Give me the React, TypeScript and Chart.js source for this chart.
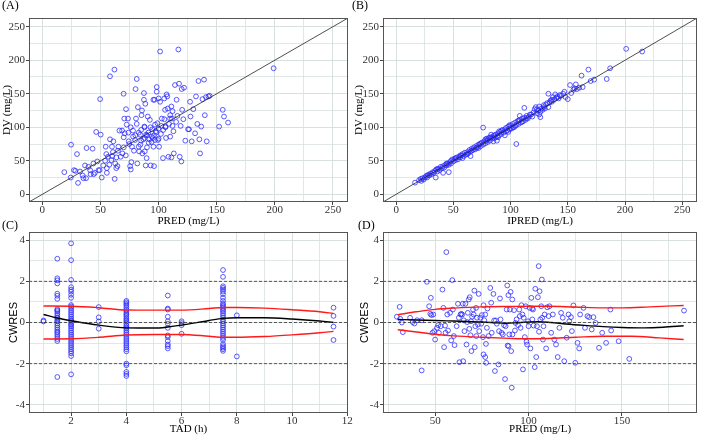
import { useEffect, useRef } from 'react';
import { Chart, registerables } from 'chart.js';
Chart.register(...registerables);

const SERIF = "'Liberation Serif', 'Times New Roman', serif";
const SANS = "'Liberation Sans', Arial, sans-serif";

// ---------- Panel A: PRED vs DV ----------
const A_PRED_DV: [number, number][] = [
  [18.9,33],[24.7,74],[24.4,25],[27.2,36],[28.4,35],[29.8,60],[30.7,17],[32.4,34],[34.7,28],[35.3,24],[36.7,43],[37.6,24],[38,69],[39.6,41],[41.1,36],[41.5,30],[43.2,68],[43.9,46],[44.2,30],[45.2,32],[46.3,93],[47.3,49],[48.3,36],[49.7,142],[50.2,89],[51.1,25],[49.3,36],[52.4,43],[54,50],[54.5,71],[55.5,39],[55.5,32],[56.5,56],[57.6,44],[58.2,176],[58.2,82],[59.4,51],[59.9,71],[60.7,63],[61.1,79],[62,186],[62.2,23],[62.7,46],[63.6,39],[63.7,55],[64.6,42],[65.4,71],[66.3,95],[67.4,56],[68.6,95],[68.9,61],[69.9,150],[70.5,113],[70.9,91],[72,127],[71.8,58],[72.6,104],[73.7,113],[74,92],[74.3,79],[74.8,75],[75.5,42],[76.1,37],[76.6,48],[77.1,71],[78.1,86],[78.8,65],[79.8,81],[80.2,157],[80.6,113],[81.2,172],[81.2,105],[81.7,46],[82.2,130],[82.9,71],[83.3,64],[84.1,89],[84.3,74],[85.3,118],[85.7,125],[86,61],[86.9,82],[87.4,151],[87.4,141],[87.8,101],[88.1,64],[88.6,135],[88.9,43],[89.2,89],[89.7,54],[90.7,116],[91.2,92],[91.5,77],[92.5,111],[93.2,43],[94.1,86],[94.6,97],[95.5,141],[95.6,71],[96.1,42],[96.6,141],[96.9,81],[97.6,94],[98.4,160],[98.4,153],[99,106],[99.5,81],[100.1,143],[100.4,71],[101.3,213],[101.3,138],[102.4,102],[102.8,113],[103.8,54],[104.9,143],[105.6,126],[105.9,101],[106.4,84],[106.9,149],[107.5,146],[107.9,128],[108.5,56],[109,105],[109.9,113],[110,86],[111,55],[111,131],[111.5,113],[112,102],[112.8,94],[113.1,61],[114.1,163],[115.1,108],[115.5,141],[116.2,117],[117,216],[117.6,165],[118.2,56],[119,102],[119.6,49],[119.9,157],[120.3,126],[121.3,112],[121.9,159],[123,80],[125.4,97],[126.2,97],[127.1,138],[127.5,116],[128.5,79],[129.9,127],[131.4,91],[132.2,146],[133.3,105],[134.3,169],[135.1,82],[135.7,61],[136.7,101],[137.8,142],[139.1,171],[139.8,118],[140.8,145],[141.4,79],[142.9,146],[143.9,147],[152.1,101],[155.2,126],[156.3,116],[159.8,107],[199,188],
  [76,100],[78,95],[80,88],[83,92],[85,80],[88,84],[90,88],[92,82],[94,78],[96,88],[98,92],[100,98],[102,90],[104,96],[106,100],[90,70],[85,96],[95,84],[100,83],[93,100],[65,65],[70,70],[60,57],[55,60],[105,112],[110,118],[97,104],[112,124],[70,85],[88,100]
];

// ---------- Panel B: IPRED vs DV ----------
const B_IPRED_DV: [number, number][] = [
  [16.5,17.4],[20,21],[21.5,23],[22,20],[23,24],[24,22],[25,25],[26,27],[27,25],[28,29],[29,28],[30,31],[31,30],[32,33],[33,32],[34,35],[34.6,25],[35,37],[36,34],[37,38],[38,36],[39,41],[40,39],[41,32],[41,42],[42,40],[43,44],[44,43],[45,46],[46,33],[46,44],[47,48],[48,50],[48,46],[49,52],[50,49],[51,53],[52,51],[53,55],[54,52],[55,56],[56,55],[57,58],[58,60],[58,54],[59,57],[60,62],[61,59],[62,63],[63,61],[64,66],[65,64],[65,57],[66,68],[67,66],[68,70],[69,67],[70,72],[71,70],[72,74],[72,69],[73,75],[74,72],[75,77],[76,99.5],[76,74],[77,79],[78,76],[78,82],[79,80],[80,82],[80,78],[81,84],[82,80],[83,85],[83,89],[84,83],[85,87],[85,79],[86,84],[87,89],[88,86],[88,80],[89,91],[90,88],[90,94],[91,93],[92,90],[93,96],[94,92],[95,97],[95,88],[96,99],[97,95],[98,101],[98,93],[99,97],[100,103],[100,99],[101,98],[102,105],[103,100],[104,107],[105,75],[105,103],[106,109],[107,105],[108,111],[108,117],[109,107],[110,113],[111,109],[112,129],[112,114],[113,111],[114,117],[115,113],[116,116],[118,119],[119,116],[120,122],[121,127],[122,130],[123,121],[124,125],[125,131],[126,115],[126,123],[127,128],[128,126],[129,133],[130,128],[131,134],[132,136],[133,150],[133,130],[134,137],[135,140],[136,141],[137,145],[138,141],[139,149],[140,144],[141,146],[142,143],[143,148],[144,147],[147,153],[150,142],[152,163],[153,151],[155,156],[156,158],[157,164],[158,157],[160,159],[162,177],[163,160],[168,186],[170,169],[173,171],[184,172],[187,188],[201,217],[215,213],
  [27,28],[36,38],[44,46],[52,54],[56,58],[62,60],[66,65],[70,69],[74,76],[79,83],[82,85],[86,88],[89,85],[92,95],[96,94],[99,103],[102,100],[104,102],[107,110],[110,108],[114,114],[117,119],[123,127],[129,130],[136,138],[146,150],[148,145],[125,119]
];

// ---------- Panel C: TAD vs CWRES (grouped by nominal TAD) ----------
const C_TAD_CWRES: [number, number[]][] = [
  [1, [0.05, 0.1]],
  [1.5, [3.1,2.15,2.05,1.9,1.4,1.3,1.15,0.65,0.6,0.55,0.45,0.35,0.25,0.2,0.1,0.05,-0.05,-0.15,-0.25,-0.35,-0.45,-0.5,-0.6,-0.7,-0.8,-0.9,-2.65]],
  [2, [3.85,3.03,2.07,1.72,1.6,1.5,1.35,1.2,0.85,0.78,0.7,0.6,0.5,0.4,0.3,0.2,0.12,0.05,-0.05,-0.12,-0.2,-0.3,-0.4,-0.5,-0.6,-0.7,-0.8,-0.9,-1.0,-1.1,-1.2,-1.3,-1.4,-1.5,-1.63,-2.52]],
  [3, [0.75,0.25,0.05,-0.3]],
  [4, [1.05,0.98,0.9,0.82,0.72,0.62,0.55,0.45,0.38,0.3,0.2,0.12,0.05,-0.05,-0.15,-0.22,-0.3,-0.4,-0.5,-0.6,-0.7,-0.8,-0.9,-1.0,-1.1,-1.2,-1.3,-1.4,-2.0,-2.08,-2.4,-2.5,-2.6]],
  [5.5, [1.31,0.68,0.63,0.28,0.06,-0.06,-0.26,-0.63,-0.71,-0.9,-1.07,-1.15,-1.26]],
  [6, [0.06,-0.03,-0.13,-0.55]],
  [7.5, [2.55,2.22,1.76,1.68,1.6,1.5,1.38,1.2,1.05,0.92,0.85,0.78,0.7,0.62,0.55,0.45,0.35,0.25,0.15,0.05,-0.05,-0.15,-0.25,-0.35,-0.45,-0.55,-0.65,-0.75,-0.85,-1.05,-1.15,-1.22,-1.3,-1.38]],
  [8, [0.35,-1.65]],
  [11.5, [0.72,0.32,-0.2,-0.85]],
];
const C_SMOOTH: [number, number][] = [[1,0.39],[1.5,0.22],[2,0.09],[3,-0.13],[4,-0.26],[5,-0.27],[5.5,-0.22],[6,-0.13],[7,0.1],[7.5,0.2],[8,0.23],[9,0.23],[10,0.17],[11,0.07],[11.5,0.0]];
const C_UPPER: [number, number][] = [[1,0.8],[2,0.79],[3,0.72],[4,0.61],[5,0.6],[6,0.6],[7,0.68],[7.5,0.73],[8,0.73],[9,0.7],[10,0.62],[11,0.52],[11.5,0.44]];
const C_LOWER: [number, number][] = [[1,-0.8],[2,-0.79],[3,-0.72],[4,-0.61],[5,-0.58],[6,-0.58],[7,-0.67],[7.5,-0.72],[8,-0.72],[9,-0.68],[10,-0.6],[11,-0.5],[11.5,-0.43]];

// ---------- Panel D: PRED vs CWRES ----------
const D_PRED_CWRES: [number, number][] = [
  [29.5,0.28],[31,0.76],[31.3,0.18],[32.2,0],[32.7,-0.47],[36.6,0.23],[38,0.02],[38.9,-0.05],[40.3,0.11],[42.8,0.11],[42.8,-2.33],[45.6,1.98],[46.8,0.79],[47.7,1.2],[47.4,0.42],[48,0.36],[48.6,-0.5],[49,0.39],[49.5,-0.42],[50,-0.83],[51,-0.26],[51.6,-0.13],[52,-0.5],[53,-0.18],[53.9,1.6],[54.4,0.71],[54.8,-1.2],[55.3,-0.15],[55.6,-0.5],[56,3.42],[56.5,0.39],[56.9,-0.39],[58,0.47],[58.6,-0.87],[59.2,2.06],[59.5,0.63],[60,-0.66],[60.4,-1.1],[61.5,-0.18],[62.2,0.91],[62.7,0.23],[63,-1.93],[63.6,0.39],[64,0.42],[64.5,0.39],[64.8,0.91],[65,-1.88],[65.3,0.11],[65.7,-0.42],[66.2,0.91],[66.8,-1.07],[67.1,0.02],[67.5,0.47],[68,1.12],[68.3,-0.31],[68.5,1.23],[68.9,-0.62],[69.2,0.06],[69.4,-1.39],[69.8,0.28],[70.3,0.63],[70.6,0.39],[71,1.55],[71.2,-1.2],[71.5,-0.18],[71.9,0.71],[72,-0.66],[72.4,0.23],[72.9,-0.1],[73.3,1.39],[73.6,-0.42],[74.2,0.23],[74.7,-0.06],[75,0.36],[75.6,-0.71],[75.9,-1.55],[75.9,0.84],[76.3,0.11],[76.8,0.39],[76.8,-1.68],[77.2,-1.04],[77.3,-1.96],[77.7,-0.26],[78,0.68],[78.6,-0.66],[79.5,1.68],[80,0.96],[80.3,-0.5],[81.2,1.39],[81.6,0.1],[82,-2.36],[82.5,0.1],[83,-0.06],[83.9,-2.04],[84.2,-0.42],[84.7,1.17],[85,0.15],[85.6,-0.5],[86.2,-0.58],[86.9,-0.13],[87.4,-2.75],[87.7,-0.18],[88.3,0.63],[88.6,1.8],[88.8,-1.12],[89.2,1.33],[89.3,-1.15],[89.7,-0.58],[90,0.63],[90.4,1.49],[90.7,-1.39],[91,-3.17],[91.3,1.12],[91.4,-0.58],[92.2,0.6],[92.7,-0.39],[93,-0.02],[93.6,0.15],[94.4,-0.13],[95,0.63],[95.3,0.31],[95.7,-0.26],[96.2,0.84],[96.7,0.39],[97,-2.28],[97.4,0.23],[98,-0.71],[98.5,0.79],[98.9,-0.94],[99.2,-1.07],[99.7,0.06],[100,-0.18],[100.6,0.71],[101,-1.26],[101.5,1.2],[101.9,0.68],[102,0.15],[102.4,0.63],[102.7,-0.15],[103.3,-2.17],[103.6,1.64],[104.1,-1.68],[104.5,-0.18],[105,1.23],[105.4,2.74],[105.6,-0.45],[105.9,1.52],[106.3,0.15],[106.8,0.79],[107.1,2.09],[107.3,0.23],[107.7,-0.83],[108,-0.18],[108.6,0.39],[109.4,-1.26],[110,0.74],[110.7,0.31],[111.2,0.79],[112.1,-0.5],[113,0.39],[113.8,-0.83],[114.7,-1.07],[115.6,-1.68],[116.5,-0.26],[117.4,0.47],[118.3,0.23],[119.1,-1.88],[120.4,-0.74],[121.4,0.39],[121.8,0.06],[122.7,0.26],[123.2,-0.42],[124,0.83],[125,-1.96],[126.2,-0.99],[127.1,-1.26],[127.6,0.39],[129.4,0.71],[130.2,-0.26],[131.5,0.31],[132.4,0.26],[133.8,-0.34],[134.7,0.26],[135.9,-0.02],[137.7,-1.23],[139.4,-0.5],[141.5,-0.99],[143.8,0.63],[144.2,-0.39],[148.2,-0.91],[153.9,-1.77],[183.2,0.58]
];
const D_SMOOTH: [number, number][] = [[30,0.15],[40,0.12],[50,0.1],[60,0.07],[70,0.04],[80,0.0],[88,-0.04],[95,0.0],[105,0.04],[112,0.0],[120,-0.07],[130,-0.14],[140,-0.2],[150,-0.24],[162,-0.26],[172,-0.23],[183,-0.16]];
const D_UPPER: [number, number][] = [[30,0.38],[40,0.52],[50,0.64],[60,0.7],[75,0.76],[90,0.78],[100,0.79],[110,0.79],[125,0.75],[140,0.71],[150,0.71],[165,0.76],[183,0.83]];
const D_LOWER: [number, number][] = [[30,-0.35],[40,-0.46],[50,-0.57],[60,-0.65],[75,-0.72],[90,-0.77],[100,-0.79],[110,-0.78],[125,-0.72],[140,-0.67],[155,-0.67],[170,-0.75],[183,-0.83]];

// ---------- axes ----------
const CONC_LIM: [number, number] = [-11.5, 263];
const CONC_MAJOR = [0, 50, 100, 150, 200, 250];
const CONC_MINOR = [25, 75, 125, 175, 225];
const TAD_LIM: [number, number] = [0.475, 12.025];
const TAD_MAJOR = [2, 4, 6, 8, 10, 12];
const TAD_MINOR = [1, 3, 5, 7, 9, 11];
const CW_LIM: [number, number] = [-4.4, 4.4];
const CW_MAJOR = [-4, -2, 0, 2, 4];
const CW_MINOR = [-3, -1, 1, 3];
const CW_REF = [-2, 0, 2];
const PRED_D_LIM: [number, number] = [22.1, 190.2];
const PRED_D_MAJOR = [50, 100, 150];
const PRED_D_MINOR = [25, 75, 125, 175];

const BLUE = 'rgba(40,40,255,0.85)';

const borderPlugin = {
  id: 'panelBorder',
  afterDraw(chart: any) {
    const { ctx, chartArea: a } = chart;
    ctx.save();
    ctx.strokeStyle = '#555';
    ctx.lineWidth = 1;
    ctx.strokeRect(Math.round(a.left) + 0.5, Math.round(a.top) + 0.5, Math.round(a.right - a.left) - 1, Math.round(a.bottom - a.top) - 1);
    ctx.restore();
  },
};

const labelPlugin = {
  id: 'panelLabel',
  afterDraw(chart: any, _args: any, opts: any) {
    const { ctx } = chart;
    ctx.save();
    ctx.font = `12px ${SERIF}`;
    ctx.fillStyle = '#000';
    ctx.textBaseline = 'middle';
    ctx.textAlign = 'left';
    ctx.fillText(opts.text, opts.x, opts.y);
    ctx.restore();
  },
};

function axis(opts: {
  lim: [number, number]; major: number[]; minor: number[]; title: string; titleFont: string;
  size: number; horizontal: boolean; titlePad: number;
}) {
  const isMajor = (v: number) => opts.major.includes(v);
  return {
    type: 'linear',
    min: opts.lim[0],
    max: opts.lim[1],
    afterBuildTicks: (s: any) => {
      s.ticks = [...opts.major, ...opts.minor].sort((a, b) => a - b).map((v) => ({ value: v }));
    },
    afterFit: (s: any) => {
      if (opts.horizontal) s.height = opts.size; else s.width = opts.size;
    },
    grid: {
      color: '#d9e0e0',
      lineWidth: (c: any) => (c.tick && isMajor(c.tick.value) ? 1 : 0.8),
      tickColor: (c: any) => (c.tick && isMajor(c.tick.value) ? '#444' : 'rgba(0,0,0,0)'),
      tickLength: 3,
      drawTicks: true,
    },
    border: { display: false },
    ticks: {
      autoSkip: false,
      maxRotation: 0,
      padding: opts.horizontal ? -1 : 1,
      color: '#333',
      font: { family: SERIF, size: 11 },
      callback: (v: any) => (isMajor(v) ? String(v) : ''),
    },
    title: {
      display: true,
      text: opts.title,
      color: '#000',
      font: { family: opts.titleFont, size: 11 },
      padding: { top: opts.titlePad, bottom: 0 },
    },
  };
}

function pts(list: [number, number][]) {
  return list.map(([x, y]) => ({ x, y }));
}

function scatterDs(list: [number, number][]) {
  return {
    type: 'scatter',
    data: pts(list),
    pointRadius: 2.4,
    pointBorderColor: BLUE,
    pointBackgroundColor: 'rgba(0,0,0,0)',
    pointBorderWidth: 0.9,
    showLine: false,
    order: 2,
  };
}

function lineDs(list: [number, number][], color: string, width: number, dash: number[] = [], tension = 0.4) {
  return {
    type: 'line',
    data: pts(list),
    borderColor: color,
    borderWidth: width,
    borderDash: dash,
    pointRadius: 0,
    tension,
    cubicInterpolationMode: 'monotone',
    fill: false,
    order: 1,
  };
}

function hlines(xlim: [number, number]) {
  return CW_REF.map((y) => lineDs([[xlim[0], y], [xlim[1], y]], '#333', 0.8, [3, 2], 0));
}

const W = 702;
const H = 436;

function makeConfig(p: {
  datasets: any[]; padding: any; x: any; y: any; label: { text: string; x: number; y: number };
}) {
  return {
    type: 'scatter',
    data: { datasets: p.datasets },
    options: {
      animation: false,
      responsive: false,
      maintainAspectRatio: false,
      events: [],
      layout: { padding: p.padding },
      plugins: {
        legend: { display: false },
        tooltip: { enabled: false },
        panelLabel: p.label,
      },
      scales: { x: p.x, y: p.y },
    },
    plugins: [borderPlugin, labelPlugin],
  };
}

const cPoints: [number, number][] = C_TAD_CWRES.flatMap(([t, vals]) => vals.map((v) => [t, v] as [number, number]));

const configs = [
  makeConfig({
    datasets: [scatterDs(A_PRED_DV), lineDs([[CONC_LIM[0], CONC_LIM[0]], [CONC_LIM[1], CONC_LIM[1]]], '#222', 0.8, [], 0)],
    padding: { left: 0, top: 18, right: W - 348, bottom: H - 228 },
    x: axis({ lim: CONC_LIM, major: CONC_MAJOR, minor: CONC_MINOR, title: 'PRED (mg/L)', titleFont: SERIF, size: 26, horizontal: true, titlePad: 0 }),
    y: axis({ lim: CONC_LIM, major: CONC_MAJOR, minor: CONC_MINOR, title: 'DV (mg/L)', titleFont: SERIF, size: 29, horizontal: false, titlePad: 1 }),
    label: { text: '(A)', x: 2, y: 6 },
  }),
  makeConfig({
    datasets: [scatterDs(B_IPRED_DV), lineDs([[CONC_LIM[0], CONC_LIM[0]], [CONC_LIM[1], CONC_LIM[1]]], '#222', 0.8, [], 0)],
    padding: { left: 351, top: 18, right: W - 701, bottom: H - 228 },
    x: axis({ lim: CONC_LIM, major: CONC_MAJOR, minor: CONC_MINOR, title: 'IPRED (mg/L)', titleFont: SERIF, size: 26, horizontal: true, titlePad: 0 }),
    y: axis({ lim: CONC_LIM, major: CONC_MAJOR, minor: CONC_MINOR, title: 'DV (mg/L)', titleFont: SERIF, size: 32, horizontal: false, titlePad: 2 }),
    label: { text: '(B)', x: 352, y: 6 },
  }),
  makeConfig({
    datasets: [scatterDs(cPoints), ...hlines(TAD_LIM), lineDs(C_SMOOTH, '#000', 1.4), lineDs(C_UPPER, '#ff1a1a', 1.4), lineDs(C_LOWER, '#ff1a1a', 1.4)],
    padding: { left: 0, top: 232, right: W - 348, bottom: 0 },
    x: axis({ lim: TAD_LIM, major: TAD_MAJOR, minor: TAD_MINOR, title: 'TAD (h)', titleFont: SERIF, size: 23, horizontal: true, titlePad: 0 }),
    y: axis({ lim: CW_LIM, major: CW_MAJOR, minor: CW_MINOR, title: 'CWRES', titleFont: SANS, size: 29, horizontal: false, titlePad: 7 }),
    label: { text: '(C)', x: 2, y: 226 },
  }),
  makeConfig({
    datasets: [scatterDs(D_PRED_CWRES), ...hlines(PRED_D_LIM), lineDs(D_SMOOTH, '#000', 1.4), lineDs(D_UPPER, '#ff1a1a', 1.4), lineDs(D_LOWER, '#ff1a1a', 1.4)],
    padding: { left: 351, top: 232, right: W - 700, bottom: 0 },
    x: axis({ lim: PRED_D_LIM, major: PRED_D_MAJOR, minor: PRED_D_MINOR, title: 'PRED (mg/L)', titleFont: SERIF, size: 23, horizontal: true, titlePad: 0 }),
    y: axis({ lim: CW_LIM, major: CW_MAJOR, minor: CW_MINOR, title: 'CWRES', titleFont: SANS, size: 32, horizontal: false, titlePad: 7 }),
    label: { text: '(D)', x: 358, y: 226 },
  }),
];

function Panel({ config }: { config: any }) {
  const ref = useRef<HTMLCanvasElement | null>(null);
  useEffect(() => {
    if (!ref.current) return;
    const chart = new Chart(ref.current, config);
    return () => chart.destroy();
  }, [config]);
  return (
    <canvas
      ref={ref}
      width={W}
      height={H}
      style={{ position: 'absolute', left: 0, top: 0, width: W, height: H }}
    />
  );
}

export default function App() {
  return (
    <div style={{ position: 'absolute', left: 0, top: 0, width: W, height: H, background: '#fff', overflow: 'hidden' }}>
      {configs.map((c, i) => (
        <Panel key={i} config={c} />
      ))}
    </div>
  );
}
